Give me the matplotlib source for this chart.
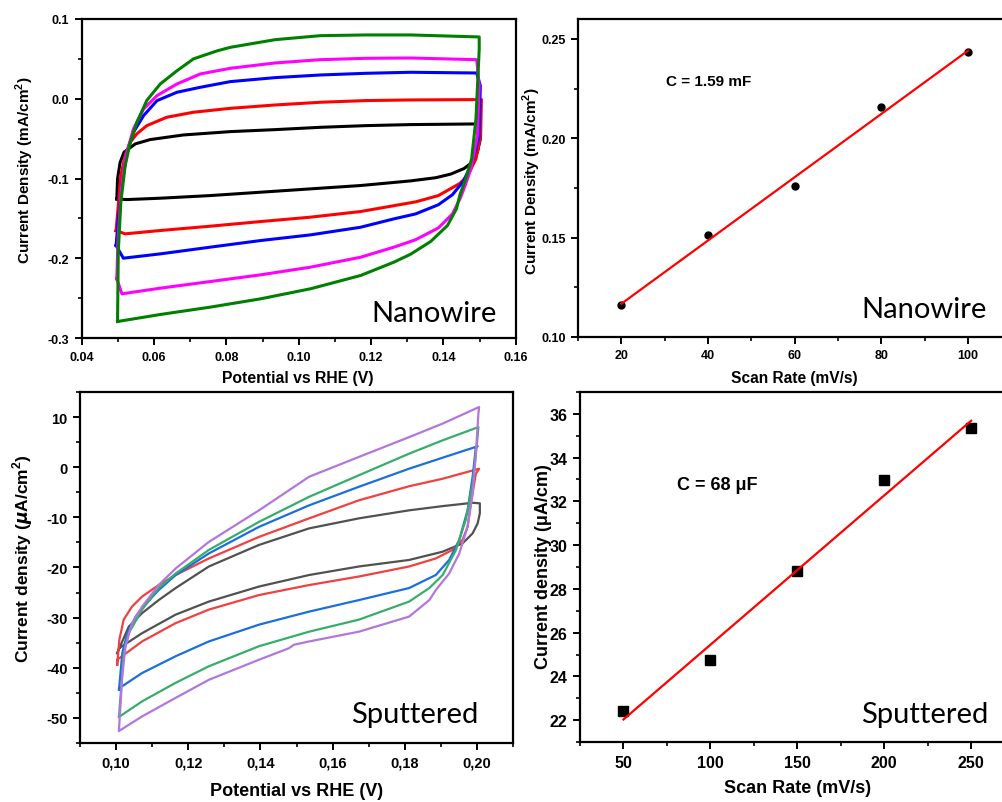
""" Double layer capacitance figure: CV loops and scan rate fits
    for nanowire and sputtered electrodes
"""

import matplotlib
matplotlib.use('Agg')
import matplotlib.pyplot as plt
import numpy as np
from matplotlib.ticker import MultipleLocator, FuncFormatter

# ---- nanowire CV loops (V, mA/cm2), traced round each loop ----
nw_black = [(0.0497, -0.1256), (0.0499, -0.1005), (0.0506, -0.080),
            (0.0517, -0.067), (0.0529, -0.063), (0.0548, -0.0566),
            (0.0589, -0.0512), (0.0681, -0.0454), (0.0811, -0.0412),
            (0.0935, -0.0387), (0.1060, -0.0358), (0.1185, -0.0337),
            (0.1309, -0.0324), (0.1485, -0.0316), (0.1502, -0.0328),
            (0.1502, -0.0504), (0.1494, -0.067), (0.1480, -0.0796),
            (0.1457, -0.0875), (0.1420, -0.0945), (0.1379, -0.0990),
            (0.1309, -0.1030), (0.1171, -0.1088), (0.1032, -0.1130),
            (0.0894, -0.1172), (0.0755, -0.1214), (0.0617, -0.1247),
            (0.0525, -0.1264), (0.0497, -0.1256)]
nw_red = [(0.0495, -0.1653), (0.0501, -0.134), (0.0508, -0.0964),
          (0.0520, -0.0713), (0.0534, -0.0545), (0.0552, -0.0441),
          (0.0580, -0.0337), (0.0635, -0.0232), (0.0709, -0.0169),
          (0.0811, -0.0120), (0.0935, -0.0078), (0.1060, -0.0044),
          (0.1185, -0.0023), (0.1309, -0.0015), (0.1505, -0.0010),
          (0.1503, -0.0462), (0.1490, -0.0754), (0.1467, -0.0964),
          (0.1446, -0.1060), (0.1415, -0.1140), (0.1386, -0.1214),
          (0.1323, -0.1293), (0.1171, -0.1414), (0.1032, -0.1485),
          (0.0894, -0.1540), (0.0755, -0.1598), (0.0617, -0.1652),
          (0.0520, -0.1694), (0.0495, -0.1653)]
nw_blue = [(0.0495, -0.184), (0.0501, -0.1506), (0.0511, -0.1089),
           (0.0525, -0.067), (0.0543, -0.042), (0.0571, -0.0211),
           (0.0608, -0.0024), (0.0663, 0.0081), (0.0728, 0.0144),
           (0.0811, 0.0215), (0.0935, 0.0265), (0.1060, 0.0298),
           (0.1185, 0.0319), (0.1309, 0.0332), (0.1492, 0.0323),
           (0.1502, 0.0164), (0.1499, -0.046), (0.1480, -0.0796),
           (0.1455, -0.1036), (0.1425, -0.1203), (0.1386, -0.1329),
           (0.1323, -0.1444), (0.1263, -0.1506), (0.1171, -0.1611),
           (0.1032, -0.1707), (0.0894, -0.1778), (0.0755, -0.1861),
           (0.0617, -0.1945), (0.0515, -0.1999), (0.0495, -0.184)]
nw_magenta = [(0.0497, -0.2258), (0.0500, -0.180), (0.0508, -0.120),
              (0.0520, -0.075), (0.0543, -0.0378), (0.0571, -0.0128),
              (0.0608, 0.0039), (0.0663, 0.0185), (0.0728, 0.0311),
              (0.0811, 0.0382), (0.0935, 0.0449), (0.1060, 0.0490),
              (0.1185, 0.0507), (0.1309, 0.0511), (0.1492, 0.0490),
              (0.1499, 0.0164), (0.1494, -0.0462), (0.1476, -0.088),
              (0.1460, -0.1088), (0.1448, -0.1233), (0.1425, -0.1444),
              (0.1386, -0.1620), (0.1323, -0.1768), (0.1263, -0.1861),
              (0.1171, -0.1987), (0.1032, -0.2112), (0.0894, -0.2208),
              (0.0755, -0.2292), (0.0617, -0.2375), (0.0511, -0.2446),
              (0.0497, -0.2258)]
nw_green = [(0.0499, -0.2793), (0.0501, -0.192), (0.0508, -0.130),
            (0.0520, -0.084), (0.0534, -0.055), (0.0552, -0.030),
            (0.0580, -0.002), (0.0617, 0.0185), (0.0663, 0.035),
            (0.0709, 0.050), (0.0774, 0.060), (0.0811, 0.0645),
            (0.0935, 0.0741), (0.1060, 0.0791), (0.1185, 0.0800),
            (0.1309, 0.0800), (0.1499, 0.0775), (0.1499, 0.0624),
            (0.1490, -0.0253), (0.1478, -0.0754), (0.1462, -0.1000),
            (0.1446, -0.1200), (0.1436, -0.1381), (0.1411, -0.1590),
            (0.1365, -0.1789), (0.1309, -0.1950), (0.1263, -0.2049),
            (0.1171, -0.2216), (0.1032, -0.2383), (0.0894, -0.2509),
            (0.0755, -0.2613), (0.0617, -0.2705), (0.0499, -0.2793)]
nw_colors = ['black', '#ff0000', '#0000ff', '#ff00ff', '#008000']

# ---- nanowire scan rate fit ----
nw_rate = [20, 40, 60, 80, 100]
nw_current = [0.1163, 0.1511, 0.1758, 0.2156, 0.2433]

# ---- sputtered CV loops (V, uA/cm2) ----
sp_grey = [(0.1003, -37.1), (0.1017, -34.75), (0.1035, -31.8),
           (0.1072, -29.1), (0.1118, -26.5), (0.1165, -24.1),
           (0.1257, -19.8), (0.1396, -15.5), (0.1535, -12.2),
           (0.1673, -10.2), (0.1812, -8.6), (0.1905, -7.76),
           (0.1988, -7.1), (0.2008, -7.2), (0.2008, -9.2),
           (0.2002, -11.2), (0.1988, -13.2), (0.1960, -15.2),
           (0.1905, -16.85), (0.1812, -18.5), (0.1673, -19.8),
           (0.1535, -21.5), (0.1396, -23.8), (0.1257, -26.8),
           (0.1165, -29.4), (0.1072, -33.1), (0.1008, -36.1),
           (0.1003, -37.1)]
sp_red = [(0.1003, -39.4), (0.1009, -34.4), (0.1021, -30.4),
          (0.1044, -27.8), (0.1072, -25.8), (0.1118, -23.5),
          (0.1165, -21.5), (0.1257, -18.2), (0.1396, -13.9),
          (0.1535, -10.2), (0.1673, -6.6), (0.1812, -3.8),
          (0.1905, -2.3), (0.2006, -0.3), (0.1997, -1.3),
          (0.1983, -7.2), (0.1974, -11.9), (0.1960, -14.5),
          (0.1932, -16.5), (0.1886, -18.2), (0.1812, -19.8),
          (0.1673, -21.8), (0.1535, -23.5), (0.1396, -25.5),
          (0.1257, -28.4), (0.1165, -31.1), (0.1072, -34.75),
          (0.1003, -38.4), (0.1003, -39.4)]
sp_blue = [(0.1008, -44.4), (0.1017, -37.1), (0.1031, -33.1),
           (0.1054, -29.8), (0.1072, -28.1), (0.1118, -24.5),
           (0.1165, -21.5), (0.1257, -17.2), (0.1396, -11.9),
           (0.1535, -7.6), (0.1673, -3.9), (0.1812, -0.3),
           (0.1905, 1.9), (0.2002, 4.17), (0.1997, 4.0),
           (0.1988, -1.9), (0.1974, -8.6), (0.1951, -14.5),
           (0.1923, -18.5), (0.1886, -21.5), (0.1812, -24.1),
           (0.1673, -26.5), (0.1535, -28.8), (0.1396, -31.4),
           (0.1257, -34.75), (0.1165, -37.7), (0.1072, -41.05),
           (0.1008, -44.1), (0.1008, -44.4)]
sp_green = [(0.1008, -49.7), (0.1013, -45.0), (0.1021, -37.1),
            (0.1035, -33.1), (0.1072, -28.4), (0.1118, -24.1),
            (0.1165, -21.2), (0.1257, -16.5), (0.1396, -10.9),
            (0.1535, -5.9), (0.1673, -1.6), (0.1812, 2.7),
            (0.1905, 5.36), (0.2004, 8.0), (0.2000, 4.7),
            (0.1988, -3.3), (0.1969, -10.5), (0.1942, -16.5),
            (0.1905, -21.5), (0.1868, -24.1), (0.1812, -26.8),
            (0.1673, -30.4), (0.1535, -32.8), (0.1396, -35.7),
            (0.1257, -39.7), (0.1165, -43.0), (0.1072, -46.7),
            (0.1008, -49.8)]
sp_purple = [(0.1008, -52.3), (0.1017, -41.7), (0.1026, -35.7),
             (0.1044, -31.1), (0.1072, -27.8), (0.1118, -23.5),
             (0.1165, -20.2), (0.1257, -14.9), (0.1396, -8.6),
             (0.1535, -1.9), (0.1673, 2.05), (0.1812, 6.0),
             (0.1905, 8.7), (0.2006, 12.0), (0.2004, 10.66),
             (0.1997, 2.7), (0.1988, -5.3), (0.1974, -11.9),
             (0.1951, -17.2), (0.1923, -21.2), (0.1886, -24.5),
             (0.1868, -26.5), (0.1812, -29.8), (0.1673, -32.8),
             (0.1535, -34.75), (0.1493, -35.4), (0.1479, -36.1),
             (0.1396, -38.4), (0.1257, -42.4), (0.1165, -46.0),
             (0.1072, -49.7), (0.1008, -52.6)]
sp_colors = ['#515151', '#F14040', '#1A6FDF', '#37AD6B', '#B177DE']

# ---- sputtered scan rate fit ----
sp_rate = [50, 100, 150, 200, 250]
sp_current = [22.4, 24.74, 28.83, 32.97, 35.35]

plt.rcParams['font.family'] = ['Liberation Sans', 'DejaVu Sans']
plt.rcParams['font.weight'] = 'bold'
plt.rcParams['axes.unicode_minus'] = False
plt.rcParams['mathtext.fontset'] = 'custom'
plt.rcParams['mathtext.rm'] = 'Liberation Sans'
plt.rcParams['mathtext.bf'] = 'Liberation Sans:bold'


def style_axes(ax, tick_size, xmaj, xmin, ymaj, ymin):
    for sp in ax.spines.values():
        sp.set_linewidth(1.6)
    ax.xaxis.set_major_locator(MultipleLocator(xmaj))
    ax.xaxis.set_minor_locator(MultipleLocator(xmin))
    ax.yaxis.set_major_locator(MultipleLocator(ymaj))
    ax.yaxis.set_minor_locator(MultipleLocator(ymin))
    ax.tick_params(which='major', direction='out', length=5, width=1.4,
                   labelsize=tick_size, pad=4)
    ax.tick_params(which='minor', direction='out', length=3, width=1.2)
    for lab in ax.get_xticklabels() + ax.get_yticklabels():
        lab.set_fontweight('bold')


def draw_loops(ax, loops, colors, lw):
    for loop, col in zip(loops, colors):
        pts = np.array(loop)
        ax.plot(pts[:, 0], pts[:, 1], color=col, lw=lw,
                solid_joinstyle='round')


def main():
    fig = plt.figure(figsize=(10.03, 8.03), dpi=100)

    # top left: nanowire CV
    ax1 = fig.add_axes([0.0815, 0.5778, 0.4327, 0.3973])
    draw_loops(ax1, [nw_black, nw_red, nw_blue, nw_magenta, nw_green],
               nw_colors, 2.2)
    ax1.set_xlim(0.04, 0.16)
    ax1.set_ylim(-0.3, 0.1)
    style_axes(ax1, 9, 0.02, 0.01, 0.1, 0.05)
    ax1.xaxis.set_major_formatter(FuncFormatter(lambda v, p: f'{v:.2f}'))
    ax1.yaxis.set_major_formatter(FuncFormatter(lambda v, p: f'{v:.1f}'))
    ax1.set_xlabel('Potential vs RHE (V)', fontsize=11.3, fontweight='bold',
                   va='center')
    ax1.xaxis.set_label_coords(0.498, -0.125)
    ax1.set_ylabel('Current Density (mA/cm$^2$)', fontsize=11,
                   fontweight='bold', va='center', ha='center')
    ax1.yaxis.set_label_coords(-0.131, 0.53)
    ax1.text(0.957, 0.053, 'Nanowire', transform=ax1.transAxes,
             ha='right', va='baseline', fontsize=21, family='Lato',
             fontweight='normal')

    # top right: nanowire scan rate
    ax2 = fig.add_axes([0.5763, 0.5791, 0.4321, 0.396])
    ax2.plot(nw_rate, nw_current, 'o', color='black', ms=5)
    k, b = np.polyfit(nw_rate, nw_current, 1)
    xr = np.array([nw_rate[0], nw_rate[-1]])
    ax2.plot(xr, k * xr + b, color='#ff0000', lw=1.6)
    ax2.set_xlim(10, 110)
    ax2.set_ylim(0.10, 0.26)
    style_axes(ax2, 9, 20, 10, 0.05, 0.025)
    ax2.yaxis.set_major_formatter(FuncFormatter(lambda v, p: f'{v:.2f}'))
    ax2.set_xlabel('Scan Rate (mV/s)', fontsize=11.2, fontweight='bold',
                   va='center')
    ax2.xaxis.set_label_coords(0.5, -0.126)
    ax2.set_ylabel('Current Density (mA/cm$^2$)', fontsize=11,
                   fontweight='bold', va='center', ha='center')
    ax2.yaxis.set_label_coords(-0.106, 0.494)
    ax2.text(30.4, 0.2289, 'C = 1.59 mF', ha='left', va='center',
             fontsize=11, fontweight='bold')
    ax2.text(0.944, 0.063, 'Nanowire', transform=ax2.transAxes,
             ha='right', va='baseline', fontsize=21, family='Lato',
             fontweight='normal')

    # bottom left: sputtered CV
    ax3 = fig.add_axes([0.0798, 0.0735, 0.4317, 0.4371])
    draw_loops(ax3, [sp_grey, sp_red, sp_blue, sp_green, sp_purple],
               sp_colors, 1.6)
    ax3.set_xlim(0.09, 0.21)
    ax3.set_ylim(-55, 15)
    style_axes(ax3, 10.5, 0.02, 0.01, 10, 5)
    ax3.xaxis.set_major_formatter(
        FuncFormatter(lambda v, p: f'{v:.2f}'.replace('.', ',')))
    ax3.set_xticks([0.10, 0.12, 0.14, 0.16, 0.18, 0.20])
    for lab in ax3.get_xticklabels():
        lab.set_fontweight('bold')
    ax3.set_xlabel('Potential vs RHE (V)', fontsize=13, fontweight='bold',
                   va='center')
    ax3.xaxis.set_label_coords(0.5, -0.136)
    ax3.set_ylabel('Current density ($\\mu$A/cm$^2$)', fontsize=12.5,
                   fontweight='bold', va='center', ha='center')
    ax3.yaxis.set_label_coords(-0.132, 0.527)
    ax3.text(0.919, 0.059, 'Sputtered', transform=ax3.transAxes,
             ha='right', va='baseline', fontsize=21, family='Lato',
             fontweight='normal')

    # bottom right: sputtered scan rate
    ax4 = fig.add_axes([0.5783, 0.0747, 0.4332, 0.4359])
    ax4.plot(sp_rate, sp_current, 's', color='black', ms=6.5)
    k, b = np.polyfit(sp_rate, sp_current, 1)
    xr = np.array([sp_rate[0], sp_rate[-1]])
    ax4.plot(xr, k * xr + b, color='#ff0000', lw=1.6)
    ax4.set_xlim(25, 275)
    ax4.set_ylim(21, 37)
    style_axes(ax4, 11.5, 50, 25, 2, 1)
    ax4.set_xlabel('Scan Rate (mV/s)', fontsize=13, fontweight='bold',
                   va='center')
    ax4.xaxis.set_label_coords(0.501, -0.129)
    ax4.set_ylabel('Current density (\u03bcA/cm)', fontsize=13,
                   fontweight='bold', va='center', ha='center')
    ax4.yaxis.set_label_coords(-0.085, 0.503)
    ax4.text(81, 32.77, 'C = 68 \u03bcF', ha='left', va='center',
             fontsize=13, fontweight='bold')
    ax4.text(0.939, 0.057, 'Sputtered', transform=ax4.transAxes,
             ha='right', va='baseline', fontsize=21, family='Lato',
             fontweight='normal')

    fig.savefig('out.png', dpi=100)


if __name__ == '__main__':
    main()
